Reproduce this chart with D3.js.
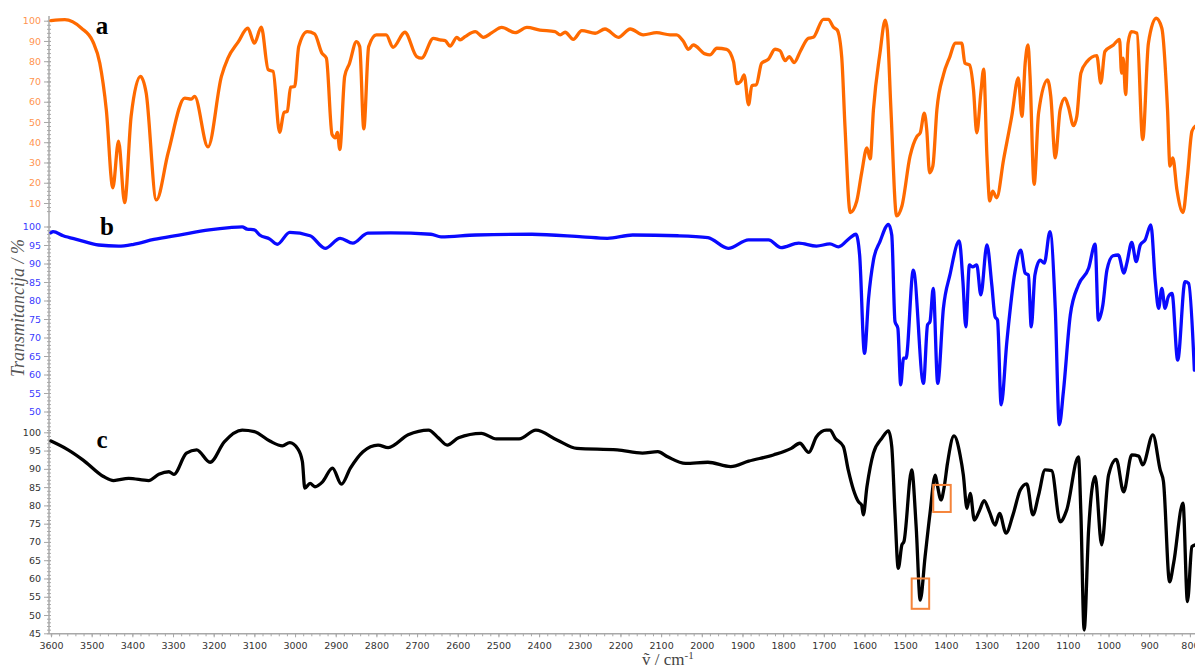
<!DOCTYPE html>
<html><head><meta charset="utf-8">
<script src="https://cdn.jsdelivr.net/npm/d3@7"></script>
<style>html,body{margin:0;padding:0;background:#fff;}svg{display:block;}</style>
</head><body>
<svg id="chart" width="1195" height="670"></svg>
<script>
// ---- data (wavenumber cm-1, transmittance %) ----
const waveA = [3600,3566,3525,3497,3480,3464,3448,3434,3419,3403,3380,3366,3341,3312,3271,3255,3247,3214,3181,3165,3140,3116,3100,3083,3066,3054,3038,3027,3019,3011,3001,2991,2970,2952,2934,2923,2909,2901,2896,2890,2878,2866,2849,2841,2831,2819,2800,2776,2759,2730,2701,2689,2660,2644,2631,2619,2602,2594,2582,2557,2537,2516,2492,2459,2430,2398,2361,2348,2336,2316,2295,2262,2238,2205,2176,2144,2111,2078,2062,2045,2033,2021,1992,1980,1963,1939,1922,1914,1904,1896,1885,1877,1866,1853,1836,1820,1808,1795,1785,1773,1758,1738,1726,1701,1689,1676,1667,1656,1648,1635,1619,1607,1594,1586,1578,1562,1549,1544,1535,1521,1508,1488,1471,1463,1453,1447,1440,1432,1422,1406,1390,1377,1361,1353,1342,1332,1324,1314,1307,1299,1292,1285,1275,1258,1238,1222,1213,1205,1198,1193,1183,1172,1150,1142,1131,1119,1107,1099,1086,1078,1068,1053,1029,1019,1009,988,973,968,964,958,952,944,930,916,902,883,869,855,849,842,832,817,806,795,787];
const transA = [100,100.5,96.3,89.7,79,56,17.5,40.5,10.2,52.8,72.5,64.3,11.5,34.8,61.8,61.3,62.6,37.7,72.5,81.5,89.4,96.3,88.9,96.8,75.8,75,44.9,54.7,55.2,67.2,67.5,87.2,94.6,93.5,84,81.5,43.8,42.2,44.9,36.4,72.5,79,89.7,87.2,46.6,87.2,93,93,86.9,94.3,82.3,81.5,91.3,90.5,90.2,87.5,91.8,90.5,92.1,94.6,91.8,94.1,96.7,94.1,96.7,95.4,94.6,93,94.3,90.8,95.1,93.8,95.9,91.8,95.9,93,94.1,93,93,89.7,85.9,88,83.6,83.1,86.4,85.9,79.8,68.9,70,73.3,58.5,67.9,68.4,79,81,85.9,85.2,80.3,82.3,79.3,84.8,91.3,91.8,100.7,100.7,96.7,95.4,82,47.9,5.3,11,24.9,37.2,31.8,56.1,84,100.3,95.4,56.1,3.6,8.5,33.1,42.9,44.6,54.4,46.2,24.9,28.2,56.1,73.3,82.3,88.9,88.9,79,78.2,65.9,44.6,64.3,76.1,33.1,11,15.9,12.6,31.5,52.8,71.7,52.8,79,88,72.5,19.2,54.4,70.8,62.6,32.3,56.1,61.8,57.7,48.2,52.8,74.1,79.8,82.8,69.2,84.8,88,90.8,74.1,81.5,63.5,88.9,94.6,93.8,41.3,88.9,101.2,96.3,56.1,28.2,32.3,16.7,5.3,23.3,45.4,47.9];

const waveB = [3600,3595,3570,3533,3483,3434,3397,3347,3285,3211,3161,3130,3118,3100,3087,3062,3044,3013,2963,2926,2889,2858,2821,2765,2666,2641,2555,2418,2294,2232,2170,2059,1985,1935,1885,1836,1805,1762,1718,1685,1664,1635,1621,1612,1600,1590,1578,1562,1541,1533,1525,1518,1511,1504,1498,1480,1455,1445,1439,1431,1420,1406,1390,1367,1358,1351,1342,1334,1324,1314,1299,1287,1279,1273,1264,1250,1230,1216,1205,1197,1190,1181,1168,1158,1144,1131,1121,1111,1094,1074,1049,1033,1025,1014,1004,989,976,962,955,943,932,922,910,896,885,877,869,861,853,844,830,812,803,789];
const transB = [98.3,98.6,97.5,96.4,95,94.7,95.2,96.5,97.7,99.1,99.7,99.9,99.3,99.1,97.7,96.6,95.2,98.4,97.5,94.1,96.8,95.5,98.2,98.3,97.9,97.2,97.7,97.9,97.2,96.8,97.7,97.5,97,94.1,96.4,96.4,94.3,95.5,94.7,95.3,94.5,97,97.9,92.3,65.7,80.6,90.9,95.9,100.6,97.7,74.3,72.5,57.2,64.4,64.4,88.2,57.6,73.4,74.3,83.3,57.6,77.9,86.9,96.1,85.1,72.9,89.6,89.1,89.6,81.5,95,84.2,75.6,74.7,51.8,68.9,87.8,93.6,87.4,86.9,72.9,86.9,90.9,90.1,98.6,77.9,46.4,55.4,76.1,84.2,88.7,95.2,74.7,78.8,88.2,92.1,92.3,87.4,90.1,95.7,90.5,95,96.4,100.4,85.1,77.9,83.3,77.9,81,81.9,63.9,85.1,84.6,61.2];

const waveC = [3600,3558,3521,3471,3446,3409,3360,3335,3310,3298,3267,3242,3209,3174,3130,3100,3062,3031,3013,2994,2982,2976,2963,2951,2932,2908,2886,2864,2833,2796,2771,2722,2672,2647,2626,2598,2542,2505,2449,2408,2356,2307,2208,2146,2108,2084,2040,1985,1929,1885,1824,1780,1759,1737,1718,1694,1685,1672,1652,1640,1627,1615,1607,1603,1594,1578,1557,1541,1533,1525,1517,1508,1503,1484,1473,1463,1451,1439,1426,1421,1412,1404,1396,1380,1365,1357,1348,1340,1330,1317,1306,1293,1279,1268,1252,1235,1217,1201,1186,1172,1156,1140,1119,1103,1074,1068,1060,1049,1033,1017,1000,981,963,943,926,916,891,873,865,850,840,817,806,795,787];
const transC = [97.6,95.2,92.4,87.9,86.8,87.4,86.8,88.5,89.2,88.5,94.3,95.2,91.8,97.4,100.6,100.2,97.6,96.3,97.2,95.6,92,84.7,86,85.1,86.5,90.2,85.8,90.2,94.7,96.5,95.8,99.3,100.6,98.4,96.5,98.5,99.7,98.2,98.2,100.6,97.9,95.6,95.2,94.3,94.7,93.3,91.5,91.8,90.6,92.1,93.8,95.6,97,94.5,98.8,100.6,100.6,98.4,96.1,89.7,84.2,81,80.1,77.4,85.1,94.3,98.4,100.4,96.1,77.8,62.8,69.2,70.1,89.7,74.2,54.1,66,77.8,88.3,85.6,81.5,85.1,91.5,99,93.8,88.3,79.2,83.3,76,78.7,81.3,78.3,74.6,77.8,72.4,77.4,84.2,85.9,77.4,82.8,89.7,89.5,75.5,78.7,93.3,77.8,45.9,73.3,87.9,69.2,88.3,92.6,83.7,93.8,93.5,91.1,99.3,89.7,86.5,59.1,64.2,80.6,53.7,68.7,69.2];

// highlighted regions in spectrum c: [wave start, wave end, T top, T bottom]
const boxesC = [[1484,1441,60,51.7],[1431,1388,85.6,78.2]];

const ticksA = [100,90,80,70,60,50,40,30,20,10];
const ticksB = [100,95,90,85,80,75,70,65,60,55,50];
const ticksC = [100,95,90,85,80,75,70,65,60,55,50,45];
const ticksX = d3.range(3600, 799, -100);
const panelLabels = ["a","b","c"];

// ---- layout ----
const svg = d3.select("#chart");
const axisX = 49;
const x = d3.scaleLinear().domain([3600, 785]).range([51, 1196]);
const yA = d3.scaleLinear().domain([10, 100]).range([203, 20.7]);
const yB = d3.scaleLinear().domain([50, 100]).range([411.5, 226.5]);
const yC = d3.scaleLinear().domain([45, 100]).range([633.3, 432.3]);

const font = "'DejaVu Sans', Verdana, sans-serif";

// continuous vertical axis line
svg.append("line").attr("x1", axisX).attr("x2", axisX).attr("y1", 16).attr("y2", 634)
  .attr("stroke", "#a8a8a8").attr("stroke-width", 1.5);

function yAxis(scale, ticks, minorStep, lo, hi, color) {
  const g = svg.append("g").attr("transform", `translate(${axisX},0)`);
  const minor = d3.range(lo, hi + 0.001, minorStep);
  const gm = g.append("g").call(d3.axisLeft(scale).tickValues(minor).tickSize(2).tickFormat(""));
  gm.select(".domain").remove();
  gm.selectAll("line").attr("x1", 2).attr("stroke", "#a8a8a8");
  const gM = g.append("g").call(d3.axisLeft(scale).tickValues(ticks).tickSize(5).tickPadding(3));
  gM.select(".domain").remove();
  gM.selectAll("line").attr("x1", 2).attr("stroke", "#a8a8a8");
  gM.selectAll("text").attr("fill", color).style("font-family", font).style("font-size", "9.5px");
}
yAxis(yA, ticksA, 2, 6, 100, "#ff9450");
yAxis(yB, ticksB, 1, 45, 100, "#3a3aff");
yAxis(yC, ticksC, 1, 45, 100, "#333333");

// x axis
const gxm = svg.append("g").attr("transform", "translate(0,633.3)")
  .call(d3.axisBottom(x).tickValues(d3.range(3600, 784, -20)).tickSize(3).tickFormat(""));
gxm.selectAll("line").attr("stroke", "#a8a8a8");
gxm.select(".domain").attr("stroke", "#a8a8a8").attr("stroke-width", 1.5);
const gx = svg.append("g").attr("transform", "translate(0,633.3)")
  .call(d3.axisBottom(x).tickValues(ticksX).tickSize(4).tickPadding(5).tickFormat(d3.format("d")));
gx.select(".domain").remove();
gx.selectAll("line").attr("stroke", "#a8a8a8");
gx.selectAll("text").attr("fill", "#333").style("font-family", font).style("font-size", "9.5px");

// spectra
function draw(wave, trans, y, color) {
  const pts = wave.map((w, i) => [w, trans[i]]);
  svg.append("path").datum(pts)
    .attr("fill", "none").attr("stroke", color).attr("stroke-width", 3.3)
    .attr("stroke-linejoin", "round").attr("stroke-linecap", "round")
    .attr("d", d3.line().x(d => x(d[0])).y(d => y(d[1])).curve(d3.curveMonotoneX));
}
draw(waveA, transA, yA, "#ff6a00");
draw(waveB, transB, yB, "#0a0aff");
draw(waveC, transC, yC, "#000000");

// highlight boxes
svg.selectAll("rect.box").data(boxesC).enter().append("rect").attr("class", "box")
  .attr("x", d => x(d[0])).attr("width", d => x(d[1]) - x(d[0]))
  .attr("y", d => yC(d[2])).attr("height", d => yC(d[3]) - yC(d[2]))
  .attr("fill", "none").attr("stroke", "#f5843a").attr("stroke-width", 2);

// panel labels
const labelPos = [[102, 34], [107, 235], [102, 448]];
svg.selectAll("text.plabel").data(panelLabels).enter().append("text").attr("class", "plabel")
  .attr("x", (d, i) => labelPos[i][0]).attr("y", (d, i) => labelPos[i][1])
  .attr("text-anchor", "middle")
  .style("font-family", "'Liberation Serif', 'Times New Roman', serif")
  .style("font-weight", "bold").style("font-size", "25px").attr("fill", "#000")
  .text(d => d);

// axis titles
svg.append("text").attr("transform", "translate(24,308) rotate(-90)")
  .attr("text-anchor", "middle")
  .style("font-family", "'Liberation Serif', 'Times New Roman', serif")
  .style("font-style", "italic").style("font-size", "18px").attr("fill", "#555")
  .text("Transmitancija / %");

const xt = svg.append("text").attr("x", 642).attr("y", 665)
  .style("font-family", "'Liberation Serif', 'Times New Roman', serif")
  .style("font-size", "17px").attr("fill", "#444");
xt.append("tspan").text("\u1E7D / cm");
xt.append("tspan").attr("dy", -6).style("font-size", "11px").text("-1");
</script>
</body></html>
